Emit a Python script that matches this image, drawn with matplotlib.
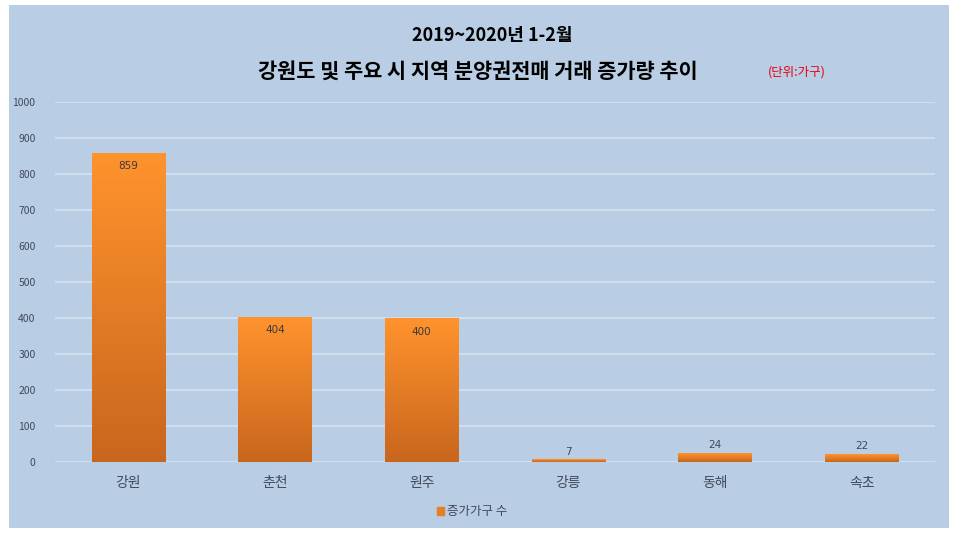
import matplotlib.pyplot as plt
import numpy as np
from matplotlib.colors import LinearSegmentedColormap
from matplotlib.patches import Rectangle

plt.rcParams['font.family'] = ['Noto Sans CJK KR', 'DejaVu Sans']

regions = ["강원", "춘천", "원주", "강릉", "동해", "속초"]
increase = [859, 404, 400, 7, 24, 22]
y_ticks = [0, 100, 200, 300, 400, 500, 600, 700, 800, 900, 1000]

panel = "#b9cde4"
grid = "#d6e2f0"
text_col = "#3f4a5a"

fig = plt.figure(figsize=(9.6, 5.39), dpi=100, facecolor="white")
fig.patches.append(Rectangle((9 / 960, 1 - 528 / 539), 940 / 960, 523 / 539,
                             transform=fig.transFigure, facecolor=panel,
                             edgecolor="none", zorder=-10))

ax = fig.add_axes([55 / 960, 1 - 462 / 539, 880 / 960, 360 / 539])
ax.set_zorder(5)
ax.set_facecolor("none")
for s in ax.spines.values():
    s.set_visible(False)
ax.set_yticks(y_ticks)
ax.yaxis.grid(True, color=grid, linewidth=1.2)
ax.set_axisbelow(True)
ax.tick_params(axis="y", length=0, labelsize=7.5, labelcolor=text_col, pad=14)
ax.tick_params(axis="x", length=0, labelsize=10, labelcolor=text_col, pad=10)

x = np.arange(len(regions))
bars = ax.bar(x, increase, width=0.5, color="#e57f26", edgecolor="none",
              zorder=2, label="증가가구 수")
ax.set_xticks(x)
ax.set_xticklabels(regions)

# vertical gradient per bar: darker at the base, bright orange at the top
cmap = LinearSegmentedColormap.from_list("og", ["#c9661e", "#ff932d"])
grad = np.linspace(0, 1, 256).reshape(-1, 1)
for b in bars:
    im = ax.imshow(grad, cmap=cmap, origin="lower", aspect="auto",
                   extent=[b.get_x(), b.get_x() + b.get_width(), 0, b.get_height()],
                   zorder=3)
    im.set_clip_path(b)
ax.set_xlim(-0.5, len(regions) - 0.5)
ax.set_ylim(0, 1000)

for xi, v in zip(x, increase):
    if v > 100:
        ax.text(xi, v - 38, str(v), ha="center", va="center", fontsize=7.5,
                color="#3a3a3a", zorder=4, family="DejaVu Sans")
    else:
        ax.text(xi, v + 8, str(v), ha="center", va="bottom", fontsize=7.5,
                color=text_col, zorder=4, family="DejaVu Sans")

fig.text(492 / 960, 1 - 35 / 539, "2019~2020년 1-2월", ha="center", va="center",
         fontsize=13, fontweight="bold", color="black")
fig.text(478 / 960, 1 - 71 / 539, "강원도 및 주요 시 지역 분양권전매 거래 증가량 추이",
         ha="center", va="center", fontsize=15, fontweight="bold", color="black")
fig.text(797 / 960, 1 - 72 / 539, "(단위:가구)", ha="center", va="center",
         fontsize=9, color="#e8000b")

fig.legend(handles=[Rectangle((0, 0), 1, 1, color="#e57f26")],
           labels=["증가가구 수"], loc="center",
           bbox_to_anchor=(472 / 960, 1 - 512 / 539), frameon=False,
           fontsize=9, handlelength=0.6, handleheight=0.6,
           handletextpad=0.2, labelcolor=text_col)

fig.savefig("out.png", dpi=100, facecolor="white")
